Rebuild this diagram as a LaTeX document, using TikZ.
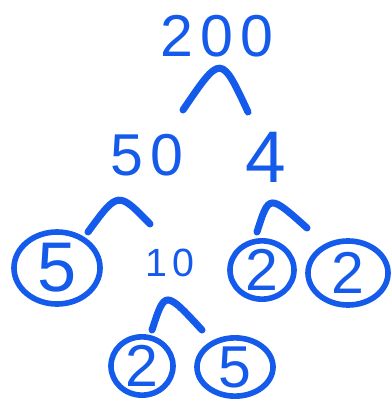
\documentclass[tikz,border=0pt]{standalone}
\usepackage{fontspec}
\setmainfont{Liberation Sans}
\usetikzlibrary{shapes.geometric}
\definecolor{ink}{RGB}{20,90,235}
\begin{document}
\begin{tikzpicture}[x=0.025cm,y=-0.025cm,
  num/.style={text=ink,font=\fontsize{42}{42}\selectfont\addfontfeatures{LetterSpace=12},inner sep=0pt},
  prime/.style={num,font=\fontsize{42}{42}\selectfont,ellipse,draw=ink,line width=4pt},
  branch/.style={draw=ink,line width=5pt,line cap=round}]
\useasboundingbox (0,0) rectangle (391,399);
% 顶层：200 = 50 x 4
\node[num] (n200) at (217,36) {200};
\node[num] (n50) at (147,155) {50};
\node[num,font=\fontsize{52}{52}\selectfont] (n4) at (266,157) {4};
\coordinate (t1) at (183,110);
\coordinate (t2) at (248,112);
\draw[branch] (t1) .. controls (221,54) .. (t2);
% 第二层：50 = 5 x 10，4 = 2 x 2
\node[prime,font=\fontsize{50}{50}\selectfont,minimum width=2.15cm,minimum height=1.8cm] (p5a) at (57,268) {5};
\node[num,font=\fontsize{28}{28}\selectfont\addfontfeatures{LetterSpace=15}] (n10) at (170,263) {10};
\node[prime,minimum width=1.6cm,minimum height=1.4cm] (p2a) at (262,270) {2};
\node[prime,minimum width=2.0cm,minimum height=1.6cm] (p2b) at (348,273) {2};
\coordinate (l1) at (88,232);
\coordinate (l2) at (150,224);
\draw[branch] (l1) .. controls (118,191) .. (l2);
\coordinate (r1) at (257,232);
\coordinate (r2) at (307,228);
\draw[branch] (r1) .. controls (269,194) .. (r2);
% 底层：10 = 2 x 5
\node[prime,minimum width=1.55cm,minimum height=1.4cm] (p2c) at (142,366) {2};
\node[prime,minimum width=1.9cm,minimum height=1.4cm] (p5b) at (235,367) {5};
\coordinate (b1) at (152,330);
\coordinate (b2) at (202,330);
\draw[branch] (b1) .. controls (165,290) .. (b2);
\end{tikzpicture}
\end{document}
